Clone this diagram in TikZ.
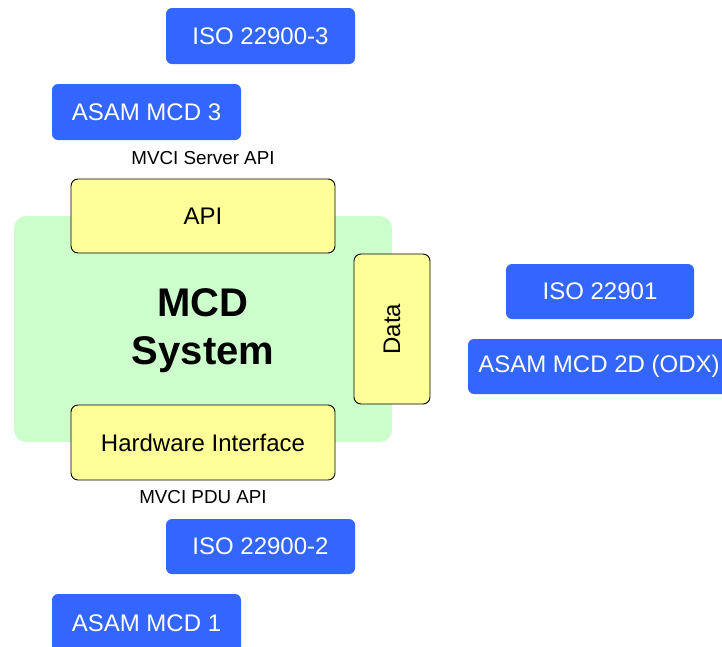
\documentclass[tikz,border=0pt]{standalone}
\usepackage{fontspec}
\setmainfont{Liberation Sans}
\definecolor{stdblue}{HTML}{3366FF}
\definecolor{partyellow}{HTML}{FFFF99}
\definecolor{sysgreen}{HTML}{CCFFCC}
\begin{document}
\begin{tikzpicture}[x=1pt,y=-1pt,
  stdbox/.style={fill=stdblue,text=white,rounded corners=6pt,inner sep=0pt,
    font=\fontsize{24}{27}\selectfont},
  partbox/.style={fill=partyellow,draw=black,line width=0.9pt,rounded corners=7pt,inner sep=0pt,
    font=\fontsize{24}{27}\selectfont},
  apilabel/.style={inner sep=0pt,font=\fontsize{18.8}{21}\selectfont}]
\useasboundingbox (0,0) rectangle (722,646);
% system background
\node[fill=sysgreen,rounded corners=12pt,minimum width=378pt,minimum height=226pt,inner sep=0pt] (sys) at (203,329) {};
\node[font=\bfseries\fontsize{40}{48}\selectfont,align=center] (systxt) at (203,331) {MCD\\System};
% parts
\node[partbox,minimum width=264pt,minimum height=74pt] (api) at (203,216) {API};
\node[partbox,minimum width=264pt,minimum height=75pt] (hw) at (203,442.5) {Hardware Interface};
\node[partbox,minimum width=76pt,minimum height=150pt] (data) at (392,329) {\rotatebox{90}{Data}};
% labels
\node[apilabel] (srvapi) at (203,158) {MVCI Server API};
\node[apilabel] (pduapi) at (203,497) {MVCI PDU API};
% standards
\node[stdbox,minimum width=189pt,minimum height=56pt] (iso3) at (260.5,36) {ISO 22900-3};
\node[stdbox,minimum width=189pt,minimum height=56pt] (mcd3) at (146.5,112) {ASAM MCD 3};
\node[stdbox,minimum width=188pt,minimum height=55pt] (iso22901) at (600,291.5) {ISO 22901};
\node[stdbox,minimum width=262pt,minimum height=55pt] (odx) at (599,366.5) {ASAM MCD 2D (ODX)};
\node[stdbox,minimum width=189pt,minimum height=55pt] (iso2) at (260.5,546.5) {ISO 22900-2};
\node[stdbox,minimum width=189pt,minimum height=58pt] (mcd1) at (146.5,623) {ASAM MCD 1};
\end{tikzpicture}
\end{document}
